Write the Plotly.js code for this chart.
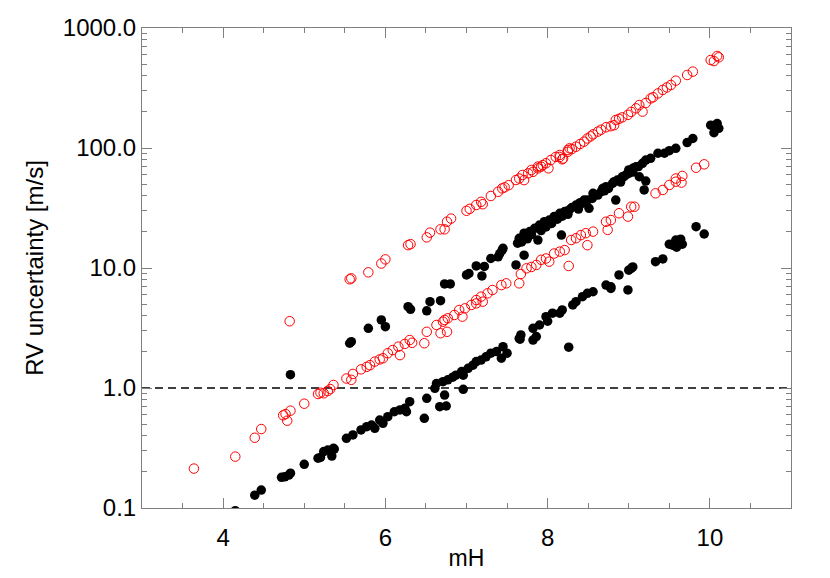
<!DOCTYPE html>
<html>
<head>
<meta charset="utf-8">
<script src="https://cdn.plot.ly/plotly-3.0.1.min.js"></script>
<style>
  body { margin: 0; background: #fff; }
  #fig { width: 830px; height: 578px; }
</style>
</head>
<body>
<div id="fig"></div>
<script>
    /* RV uncertainty vs H magnitude, four star groups */

// red open circles, upper band
const redHiX = [4.82, 5.56, 5.58, 5.79, 5.95, 6.00, 6.28, 6.31, 6.51, 6.55, 6.68, 6.73, 6.76, 6.81,
  7.00, 7.04, 7.12, 7.18, 7.20, 7.30, 7.39, 7.44, 7.47, 7.52, 7.61, 7.65, 7.71, 7.69, 7.76, 7.80,
  7.82, 7.88, 7.88, 7.92, 7.94, 7.98, 8.01, 8.04, 8.10, 8.15, 8.15, 8.18, 8.19, 8.25, 8.25, 8.27,
  8.30, 8.35, 8.40, 8.45, 8.49, 8.53, 8.56, 8.62, 8.66, 8.72, 8.78, 8.82, 8.84, 8.88, 8.92, 8.99,
  9.03, 9.09, 9.13, 9.17, 9.21, 9.27, 9.30, 9.36, 9.42, 9.47, 9.52, 9.58, 9.72, 9.79, 10.01, 10.05,
  10.09, 10.11];
const redHiY = [3.6, 8.05, 8.2, 9.2, 10.9, 11.8, 15.5, 15.8, 18.0, 19.7, 21.0, 21.0, 24.3, 25.8,
  30.0, 31.1, 33.5, 35.6, 34.0, 39.8, 43.2, 46.1, 47.0, 49.0, 54.1, 55.7, 54.0, 59.6, 61.5, 65.6,
  63.3, 67.7, 70.0, 69.9, 72.0, 74.6, 67.7, 79.4, 84.3, 87.5, 84.3, 80.5, 81.7, 93.0, 96.2, 99.4,
  98.0, 102.5, 108, 113, 120, 125, 130, 137, 142, 149, 152, 155, 171, 175, 180, 189,
  200, 214, 228, 201, 237, 259, 265, 285, 305, 320, 335, 364, 406, 433, 541, 530,
  585, 570];

// red open circles, lower band
const redLoX = [3.64, 4.15, 4.39, 4.47, 4.74, 4.77, 4.79, 4.83, 5.00, 5.17, 5.20, 5.24, 5.29, 5.32,
  5.36, 5.52, 5.58, 5.60, 5.70, 5.77, 5.81, 5.87, 5.93, 5.97, 6.03, 6.09, 6.16, 6.18, 6.24, 6.30,
  6.33, 6.48, 6.51, 6.63, 6.68, 6.71, 6.73, 6.76, 6.77, 6.85, 6.91, 6.95, 6.98, 7.06, 7.12, 7.20,
  7.12, 7.18, 7.26, 7.32, 7.43, 7.49, 7.65, 7.67, 7.74, 7.80, 7.86, 7.92, 7.98, 8.02, 8.08, 8.15,
  8.21, 8.26, 8.29, 8.35, 8.41, 8.47, 8.49, 8.56, 8.72, 8.74, 8.78, 8.88, 8.99, 9.03, 9.07, 9.33,
  9.42, 9.50, 9.58, 9.58, 9.65, 9.66, 9.83, 9.93];
const redLoY = [0.213, 0.268, 0.385, 0.455, 0.592, 0.607, 0.534, 0.647, 0.740, 0.891, 0.914, 0.903, 0.944, 0.98,
  1.06, 1.20, 1.17, 1.31, 1.43, 1.50, 1.55, 1.66, 1.73, 1.77, 1.95, 2.07, 2.21, 1.88, 2.33, 2.51,
  2.38, 2.36, 2.94, 3.35, 2.86, 3.57, 3.69, 2.94, 3.81, 4.06, 4.47, 3.93, 4.61, 4.92, 5.07, 5.24,
  5.41, 5.77, 6.15, 6.56, 7.21, 7.45, 7.45, 8.91, 9.94, 10.2, 10.6, 11.7, 12.0, 11.3, 13.2, 13.7,
  14.1, 10.4, 17.1, 17.7, 18.8, 19.5, 15.5, 20.1, 24.3, 20.8, 25.1, 28.6, 26.8, 32.4, 32.4, 41.9,
  44.7, 49.2, 52.4, 55.7, 51.5, 58.5, 68.5, 73.1];

// black filled circles, upper band
const blkHiX = [4.83, 5.56, 5.58, 5.79, 5.95, 6.00, 6.28, 6.31, 6.51, 6.55, 6.68, 6.73, 6.80, 7.00,
  7.03, 7.19, 7.12, 7.22, 7.30, 7.39, 7.41, 7.44, 7.45, 7.61, 7.63, 7.65, 7.68, 7.71, 7.71, 7.75,
  7.78, 7.80, 7.84, 7.88, 7.90, 7.92, 7.96, 7.98, 8.02, 8.05, 8.08, 8.12, 8.15, 8.17, 8.18, 8.21,
  8.25, 8.27, 8.30, 8.35, 8.38, 8.40, 8.43, 8.45, 8.49, 8.51, 8.55, 8.56, 8.58, 8.62, 8.66, 8.68,
  8.70, 8.72, 8.75, 8.80, 8.82, 8.84, 8.86, 8.90, 8.92, 8.94, 8.97, 9.00, 9.00, 9.05, 9.05, 9.09,
  9.12, 9.13, 9.17, 9.19, 9.21, 9.21, 9.27, 9.36, 9.44, 9.50, 9.58, 9.72, 9.79, 10.01, 10.05, 10.09,
  10.11];
const blkHiY = [1.29, 2.36, 2.43, 3.14, 3.69, 3.24, 4.76, 4.53, 4.40, 5.24, 5.34, 7.36, 7.36, 8.75,
  9.00, 8.58, 10.4, 10.3, 12.0, 12.4, 13.2, 14.1, 14.6, 10.6, 16.1, 17.7, 16.5, 12.8, 19.5, 17.5,
  20.1, 19.0, 21.4, 17.1, 22.8, 20.5, 24.3, 22.0, 25.1, 23.5, 26.8, 25.5, 28.6, 18.8, 27.0, 29.5,
  28.0, 30.6, 32.0, 33.5, 31.0, 35.0, 34.6, 36.8, 36.8, 31.4, 38.0, 41.9, 40.6, 40.5, 43.3, 46.0,
  44.0, 47.6, 46.0, 50.6, 52.4, 36.8, 54.1, 52.0, 57.6, 57.6, 60.0, 61.5, 65.7, 67.7, 63.0, 69.9,
  70.0, 57.6, 74.6, 44.7, 79.4, 53.0, 82.0, 90.4, 90.4, 95.0, 99.4, 111, 120, 155, 134, 160,
  146];

// black filled circles, lower band
const blkLoX = [4.15, 4.39, 4.47, 4.72, 4.76, 4.81, 4.83, 5.00, 5.17, 5.20, 5.24, 5.29, 5.34, 5.37,
  5.36, 5.52, 5.60, 5.70, 5.77, 5.83, 5.87, 5.93, 5.97, 6.03, 6.11, 6.18, 6.24, 6.26, 6.30, 6.48,
  6.51, 6.61, 6.63, 6.67, 6.73, 6.75, 6.71, 6.77, 6.83, 6.87, 6.94, 6.96, 6.96, 7.02, 7.08, 7.12,
  7.18, 7.24, 7.30, 7.37, 7.45, 7.43, 7.50, 7.66, 7.67, 7.65, 7.82, 7.86, 7.82, 7.90, 8.00, 7.98,
  8.06, 8.15, 8.18, 8.26, 8.31, 8.35, 8.43, 8.49, 8.56, 8.72, 8.78, 8.78, 8.88, 8.99, 9.00, 9.03,
  9.05, 9.33, 9.42, 9.50, 9.54, 9.58, 9.59, 9.64, 9.66, 9.83, 9.93];
const blkLoY = [0.095, 0.128, 0.141, 0.180, 0.182, 0.188, 0.195, 0.231, 0.260, 0.264, 0.295, 0.304, 0.271, 0.310,
  0.314, 0.381, 0.406, 0.447, 0.476, 0.491, 0.461, 0.541, 0.508, 0.577, 0.634, 0.656, 0.677, 0.634, 0.769, 0.559,
  0.820, 0.994, 1.09, 0.699, 0.874, 0.708, 1.13, 1.17, 1.23, 1.28, 1.37, 1.28, 0.975, 1.46, 1.55, 1.66,
  1.71, 1.82, 1.95, 2.01, 2.21, 1.77, 1.95, 2.55, 2.77, 2.59, 2.51, 2.68, 3.14, 3.35, 3.60, 3.93,
  4.20, 4.20, 4.47, 2.19, 4.92, 5.24, 5.77, 6.15, 6.34, 7.21, 6.98, 6.76, 8.75, 6.56, 9.6, 9.94,
  10.2, 11.3, 11.9, 15.8, 15.5, 17.1, 14.9, 17.4, 15.8, 22.1, 19.2];

// 1 m/s reference level
const refX = [3, 11];
const refY = [1, 1];

// axis ticks
const yTickVals = [0.1, 1, 10, 100, 1000];
const yTickText = ['0.1', '1.0', '10.0', '100.0', '1000.0'];

function plotFig (id) {
  let fig = document.getElementById (id) ;
  let font = 'Liberation Sans, Arial, sans-serif' ;
  let axCol = '#808080' ;

  let openRed = {symbol: 'circle-open', size: 9.5, color: '#ff0000', line: {width: 1}} ;
  let fillBlk = {symbol: 'circle', size: 9.5, color: '#000000'} ;

  let series = [
    {x: refX, y: refY, mode: 'lines', line: {color: '#000', width: 1.3, dash: '8px,5px'}, hoverinfo: 'skip'},
    {x: blkLoX, y: blkLoY, mode: 'markers', marker: fillBlk},
    {x: blkHiX, y: blkHiY, mode: 'markers', marker: fillBlk},
    {x: redLoX, y: redLoY, mode: 'markers', marker: openRed},
    {x: redHiX, y: redHiY, mode: 'markers', marker: openRed}
  ] ;

  // minor log ticks 2..9 in each decade
  let yMinor = [] ;
  for (let d = 0.1 ; d < 1000 ; d *= 10)
    for (let k = 2 ; k < 10 ; k++) yMinor.push (k * d) ;

  let layout = {
    width: 830, height: 578,
    margin: {l: 142, r: 39, t: 28, b: 70},
    paper_bgcolor: '#fff', plot_bgcolor: '#fff',
    showlegend: false,
    font: {family: font, size: 24, color: '#000'},
    xaxis: {
      range: [3, 11], tick0: 0, dtick: 2,
      showgrid: false, zeroline: false,
      showline: true, linecolor: axCol, linewidth: 1, mirror: 'ticks',
      ticks: 'inside', ticklen: 10, tickcolor: axCol,
      minor: {dtick: 0.5, ticks: 'inside', ticklen: 5, tickcolor: axCol},
      tickfont: {size: 24}, ticklabelstandoff: 8,
      title: {text: 'mH', font: {size: 23}, standoff: 0}
    },
    yaxis: {
      type: 'log', range: [-1, 3],
      tickmode: 'array', tickvals: yTickVals, ticktext: yTickText,
      showgrid: false, zeroline: false,
      showline: true, linecolor: axCol, linewidth: 1, mirror: 'ticks',
      ticks: 'inside', ticklen: 10, tickcolor: axCol,
      minor: {tickmode: 'array', tickvals: yMinor, ticks: 'inside', ticklen: 5, tickcolor: axCol},
      tickfont: {size: 24},
      title: {text: 'RV uncertainty [m/s]', font: {size: 24}, standoff: 12}
    }
  } ;

  Plotly.newPlot (fig, series, layout, {staticPlot: true}) ;
} // end plotFig

plotFig ('fig') ;
</script>
</body>
</html>
